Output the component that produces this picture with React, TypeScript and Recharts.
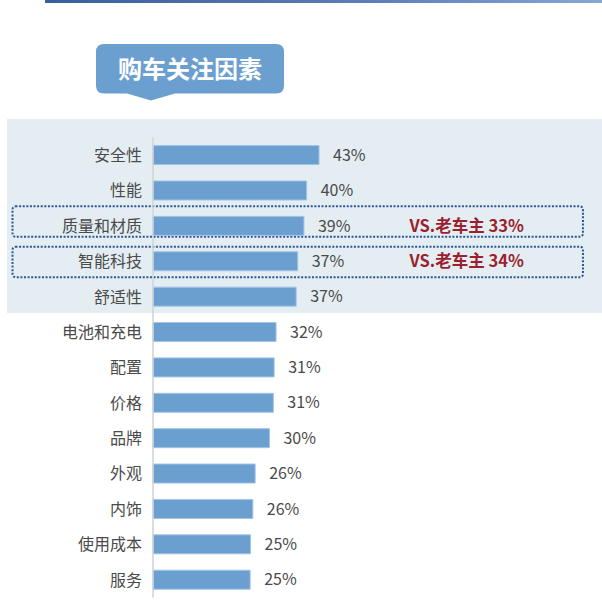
import React from 'react';
import { BarChart, Bar, XAxis, YAxis, LabelList, ReferenceArea } from 'recharts';

// categories, top to bottom
const categories = ['安全性', '性能', '质量和材质', '智能科技', '舒适性', '电池和充电', '配置', '价格', '品牌', '外观', '内饰', '使用成本', '服务'];
// share of buyers (%)
const shares = [42.9, 39.7, 39.0, 37.4, 37.0, 31.8, 31.3, 31.1, 30.1, 26.4, 25.8, 25.2, 25.1];

// highlighted rows and their comparison note
const highlightRows = ['质量和材质', '智能科技'];
const highlightNotes = ['VS.老车主 33%', 'VS.老车主 34%'];

const title = '购车关注因素';

const FONT = '"Noto Sans CJK SC", "Noto Sans", sans-serif';
const BAR_COLOR = '#6a9fcf';
const TEXT_COLOR = '#4a4a4a';

const data = categories.map((name, i) => ({ name, value: shares[i] }));

const HighlightBox = (props: any) => {
  const { x, y, width, height, note, shift } = props;
  const cy = y + height / 2;
  return (
    <g>
      <rect
        x={x}
        y={y + 3 + shift}
        width={width}
        height={height - 5}
        rx={3}
        fill="none"
        stroke="#2e5596"
        strokeWidth={2}
        strokeDasharray="2 1.6"
      />
      <text
        x={x + 397}
        y={cy}
        dy="0.36em"
        fill="#9b1f2e"
        fontSize={16.5}
        fontWeight="bold"
        fontFamily={FONT}
      >
        {note}
      </text>
    </g>
  );
};

const boxShift = [-5, 0];

const App: React.FC = () => {
  return (
    <div style={{ position: 'absolute', left: 0, top: 0, width: 602, height: 604, overflow: 'hidden', background: '#fff', fontFamily: FONT }}>
      {/* top rule */}
      <div style={{ position: 'absolute', left: 45, top: 0, width: 557, height: 2.5, background: 'linear-gradient(to right, #3a5d9c, #5d80ba 60%, #8aa6d2)' }} />
      {/* light band behind the top five rows */}
      <div style={{ position: 'absolute', left: 7, top: 119, width: 595, height: 194, background: '#e4eef2' }} />
      {/* title tag */}
      <svg width={602} height={110} style={{ position: 'absolute', left: 0, top: 0 }}>
        <path
          d="M104 44 H276 Q284 44 284 52 V85.5 Q284 93.5 276 93.5 H175 L151 100.5 L127 93.5 H104 Q96 93.5 96 85.5 V52 Q96 44 104 44 Z"
          fill="#6b9fcf"
        />
        <text x={190} y={69} dy="0.36em" textAnchor="middle" fill="#fff" fontSize={24} fontWeight="bold" fontFamily={FONT}>
          {title}
        </text>
      </svg>
      <div style={{ position: 'absolute', left: 0, top: 0 }}>
        <BarChart
          width={602}
          height={604}
          data={data}
          layout="vertical"
          margin={{ top: 137.6, right: 62, bottom: 6.4, left: 0 }}
          barSize={19}
        >
          <XAxis type="number" domain={[0, 100]} hide />
          <YAxis
            type="category"
            dataKey="name"
            width={153}
            tickLine={false}
            tickSize={0}
            tickMargin={11}
            axisLine={{ stroke: '#cfd3d6', strokeWidth: 1.5 }}
            tick={{ fill: TEXT_COLOR, fontSize: 16, fontFamily: FONT }}
            interval={0}
          />
          <Bar dataKey="value" fill={BAR_COLOR} stroke="#a3c4e5" strokeWidth={1} isAnimationActive={false}>
            <LabelList
              dataKey="value"
              position="right"
              offset={14}
              formatter={(v: any) => `${Math.round(Number(v))}%`}
              style={{ fill: TEXT_COLOR, fontSize: 16, fontFamily: FONT }}
            />
          </Bar>
          {highlightRows.map((row, i) => (
            <ReferenceArea
              key={row}
              y1={row}
              y2={row}
              x1={-36.3}
              x2={111.1}
              ifOverflow="visible"
              shape={(p: any) => <HighlightBox {...p} note={highlightNotes[i]} shift={boxShift[i]} />}
            />
          ))}
        </BarChart>
      </div>
    </div>
  );
};

export default App;
